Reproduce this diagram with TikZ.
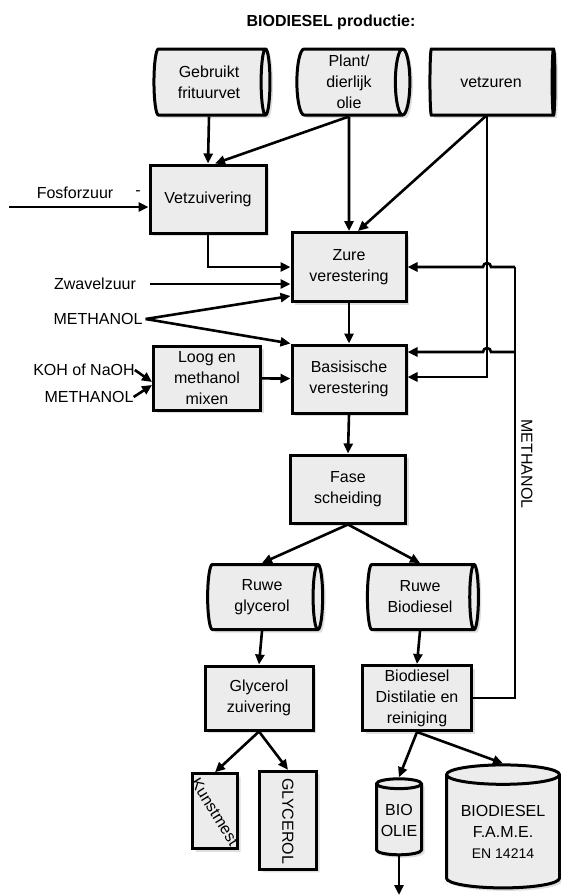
\documentclass[tikz,border=0pt]{standalone}
\usepackage{fontspec}
\setmainfont{Liberation Sans}
\usetikzlibrary{shapes.geometric,arrows.meta,shadows}

\begin{document}
\begin{tikzpicture}
  [x=1pt,y=1pt,
   every node/.style={font=\fontsize{16}{21}\selectfont, align=center, inner sep=0pt},
   stap/.style={draw, line width=3pt, fill=gray!15, drop shadow={opacity=.25, shadow xshift=3pt, shadow yshift=-3pt}},
   box/.style={stap, rectangle, minimum width=115pt, minimum height=68pt},
   tank/.style={stap, cylinder, aspect=.27, minimum height=116pt, minimum width=66pt},
   vat/.style={stap, cylinder, shape border rotate=90, aspect=.27},
   pijl/.style={-{Triangle[length=10pt,width=9pt]}, line width=2.6pt},
   lijn/.style={line width=2.6pt}]
  \useasboundingbox (0,0) rectangle (561,-895);

  \node[font=\bfseries\fontsize{16}{21}\selectfont] (titel) at (331,-22) {BIODIESEL productie:};

  \node[tank] (frituur) at (209,-82) {Gebruikt\\frituurvet};
  \node[tank, minimum height=113pt] (plant) at (349,-82) {Plant/\\dierlijk\\olie};
  \node[tank, minimum height=125pt] (vetzuren) at (491,-82) {vetzuren};

  \node[box, minimum width=116pt] (vetz) at (208,-199) {Vetzuivering};
  \node[box, minimum width=114pt, minimum height=69pt] (zure) at (349,-267) {Zure\\verestering};
  \node[box, minimum width=107pt, minimum height=64pt] (loog) at (207,-378) {Loog en\\methanol\\mixen};
  \node[box, minimum width=114pt] (basis) at (349,-379) {Basisische\\verestering};
  \node[box] (fase) at (348,-489) {Fase\\scheiding};

  \node[tank, minimum height=115pt, minimum width=65pt] (rglyc) at (262,-597) {Ruwe\\glycerol};
  \node[tank, minimum height=111pt, minimum width=65pt] (rbio) at (420,-597) {Ruwe\\Biodiesel};

  \node[box, minimum width=108pt, minimum height=64pt] (gzuiv) at (259,-698) {Glycerol\\zuivering};
  \node[box, minimum width=109pt, minimum height=65pt] (dist) at (417,-698) {Biodiesel\\Distilatie en\\reiniging};

  \node[vat, minimum width=45pt, minimum height=75pt, label={[rotate=-58]center:Kunstmest}] (kunst) at (215,-812) {};
  \node[vat, minimum width=57pt, minimum height=98pt, label={[rotate=-90]center:GLYCEROL}] (glyc) at (288,-821) {};
  \node[vat, minimum width=45pt, minimum height=76pt] (olie) at (399,-820) {BIO\\OLIE};
  \node[vat, minimum width=113pt, minimum height=123pt, aspect=.23] (fame) at (503,-832)
    {BIODIESEL\\F.A.M.E.\\{\fontsize{14}{18}\selectfont EN 14214}};

  \node (fosfor) at (75,-193) {Fosforzuur};
  \node (streep) at (138,-193) {-};
  \coordinate (fosin) at (9,-207);
  \node (zwavel) at (95,-284) {Zwavelzuur};
  \node (meth1) at (98,-319) {METHANOL};
  \node (koh) at (84,-370) {KOH of NaOH};
  \node (meth2) at (89,-397) {METHANOL};
  \node[rotate=-90] (meth3) at (527,-464) {METHANOL};
  \coordinate (uit) at (399,-895);
  \coordinate (vz) at (487,-115);
  \coordinate (m1) at (515,-267);
  \coordinate (m2) at (515,-352);

  \foreach \van/\naar in {frituur/vetz, zure/basis, basis/fase, rglyc/gzuiv, rbio/dist, plant/zure,
                          gzuiv/kunst, gzuiv/glyc, dist/olie, dist/fame, fase/rglyc, fase/rbio}
    \draw[pijl] (\van.south) -- (\naar.north);
  \draw[pijl] (plant.south) -- ([xshift=7pt]vetz.north);
  \draw[pijl] (vz) -- ([xshift=9pt]zure.north);
  \draw[pijl] (vz) |- ([yshift=2pt]basis.east);
  \draw[pijl] (vetz.south) |- (zure.west);
  \draw[pijl] (olie.south) -- (uit);

  \draw[pijl] (fosin) -- ([yshift=-8pt]vetz.west);
  \draw[pijl] ([xshift=14pt]zwavel.east) -- ([yshift=-17pt]zure.west);
  \draw[pijl] ([xshift=3pt]meth1.east) -- ([yshift=-29pt]zure.west);
  \draw[pijl] ([xshift=3pt]meth1.east) -- (basis.north west);
  \draw[pijl] (koh.east) -- ([yshift=-4pt]loog.west);
  \draw[pijl] (meth2.east) -- ([yshift=-7pt]loog.west);
  \draw[pijl] (loog) -- (basis);

  \draw[lijn] (dist.east) -| (m1);
  \draw[pijl] (m1) -- ([xshift=4pt]vz |- m1) arc[start angle=0, end angle=180, radius=4pt] -- (zure.east);
  \draw[pijl] (m2) -- ([xshift=4pt]vz |- m2) arc[start angle=0, end angle=180, radius=4pt] -- ([yshift=27pt]basis.east);
\end{tikzpicture}
\end{document}
